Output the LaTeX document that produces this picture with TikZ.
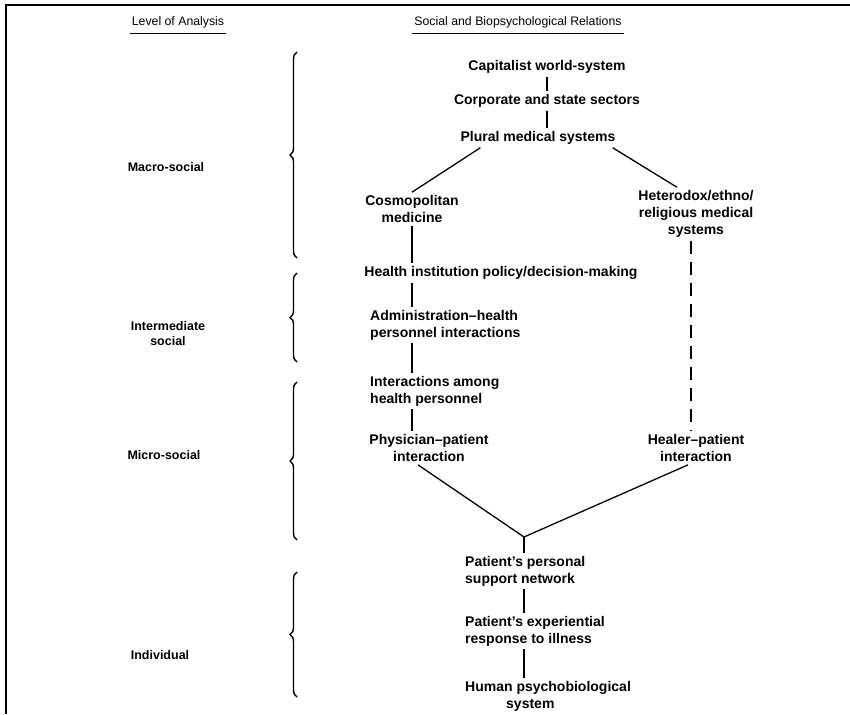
\documentclass[tikz,border=0pt]{standalone}
\usepackage{fontspec}
\setmainfont{Liberation Sans}
\usetikzlibrary{decorations.pathreplacing}
\begin{document}
\begin{tikzpicture}[x=1pt,y=-1pt,
  lbl/.style={font=\bfseries\fontsize{14}{17}\selectfont, inner sep=3pt},
  lvl/.style={font=\bfseries\fontsize{12.5}{15}\selectfont, align=center, inner sep=2pt},
  hdr/.style={font=\fontsize{12.3}{14}\selectfont, inner xsep=2pt, inner ysep=6pt},
  uline/.style={line width=1.1pt},
  link/.style={line width=1.3pt},
  dlink/.style={line width=1.3pt, dash pattern=on 13pt off 8pt},
  brc/.style={line width=1.4pt, decorate, decoration={brace, amplitude=7pt}},
  framel/.style={line width=2.2pt}]
\useasboundingbox (0,0) rectangle (850,714);
\draw[framel] (6,714) -- (6,5) -- (850,5);

% headers
\node[hdr] (hL) at (178,22) {Level of Analysis};
\node[hdr] (hR) at (518,22) {Social and Biopsychological Relations};
\draw[uline] (hL.south west) -- (hL.south east);
\draw[uline] (hR.south west) -- (hR.south east);

% level labels
\node[lvl] (macro) at (166,167) {Macro-social};
\node[lvl] (inter) at (168,334) {Intermediate\\social};
\node[lvl] (micro) at (164,455) {Micro-social};
\node[lvl] (indiv) at (160,655) {Individual};

% braces
\coordinate (b1t) at (297,52);  \coordinate (b1b) at (297,258);
\coordinate (b2t) at (297,273); \coordinate (b2b) at (297,362);
\coordinate (b3t) at (297,382); \coordinate (b3b) at (297,540);
\coordinate (b4t) at (297,572); \coordinate (b4b) at (297,697);
\draw[brc] (b1b) -- (b1t);
\draw[brc] (b2b) -- (b2t);
\draw[brc] (b3b) -- (b3t);
\draw[brc] (b4b) -- (b4t);

% relations
\node[lbl] (cap) at (547,67) {Capitalist world-system};
\node[lbl] (corp) at (547,101) {Corporate and state sectors};
\node[lbl] (plur) at (538,138) {Plural medical systems};
\node[lbl, align=center] (cos) at (412,209) {Cosmopolitan\\medicine};
\node[lbl, align=center] (het) at (696,214) {Heterodox/ethno/\\religious medical\\systems};
\node[lbl] (hip) at (501,273) {Health institution policy/decision-making};
\node[lbl, align=left, anchor=west] (adm) at (367,325) {Administration–health\\personnel interactions};
\node[lbl, align=left, anchor=west] (int) at (367,391) {Interactions among\\health personnel};
\node[lbl, align=center] (phy) at (429,448) {Physician–patient\\interaction};
\node[lbl, align=center] (heal) at (696,448) {Healer–patient\\interaction};
\coordinate (v) at (524,537);
\node[lbl, align=left, anchor=west] (pps) at (462,571) {Patient’s personal\\support network};
\node[lbl, align=left, anchor=west] (pexp) at (462,631) {Patient’s experiential\\response to illness};
\node[lbl, align=left, anchor=west] (hum) at (462,696) {Human psychobiological\\\hspace*{41pt}system};

\draw[link] (cap) -- (corp);
\draw[link] (corp.south) -- (corp.south |- plur.north);
\draw[link] ([xshift=23pt]plur.south west) -- (cos.north);
\draw[link] ([xshift=-6pt]plur.south east) -- ([xshift=-19pt]het.north);
\draw[link] (cos.south) -- (cos.south |- hip.north);
\draw[link] (cos.south |- hip.south) -- (cos.south |- adm.north);
\draw[link] (cos.south |- adm.south) -- (cos.south |- int.north);
\draw[link] (cos.south |- int.south) -- (cos.south |- phy.north);
\draw[dlink] ([xshift=-5pt]het.south) -- ([xshift=-5pt]het.south |- heal.north);
\draw[link] ([xshift=-11pt]phy.south) -- (v) -- ([xshift=-8pt]heal.south);
\draw[link] (v) -- (v |- pps.north);
\draw[link] (v |- pps.south) -- (v |- pexp.north);
\draw[link] (v |- pexp.south) -- (v |- hum.north);
\end{tikzpicture}
\end{document}
